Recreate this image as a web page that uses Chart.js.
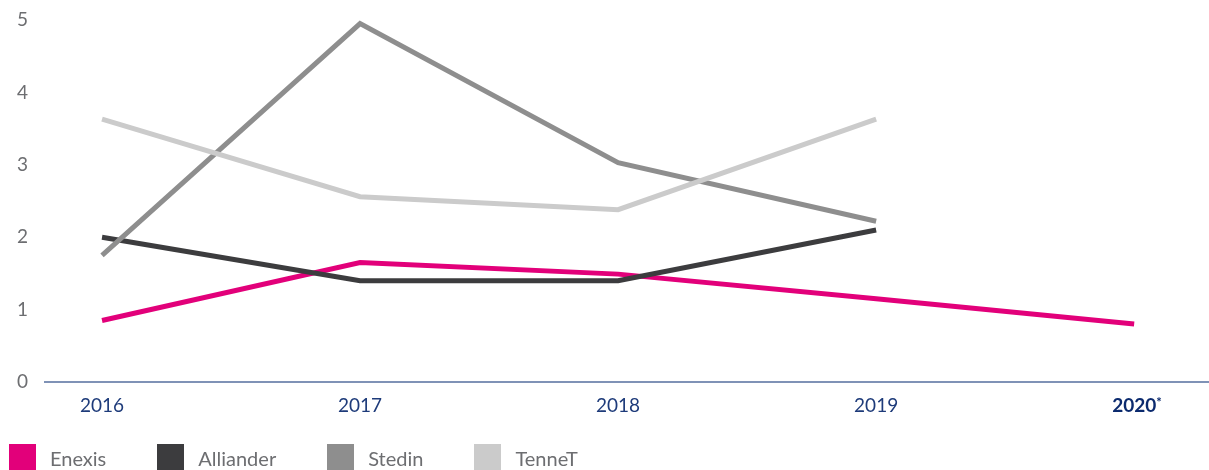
<!DOCTYPE html>
<html>
<head>
<meta charset="utf-8">
<script src="https://cdn.jsdelivr.net/npm/chart.js@4"></script>
<style>
  html, body { margin: 0; padding: 0; background: #fff; }
  #wrap { position: relative; width: 1209px; height: 470px; }
  #legend { position: absolute; left: 9px; top: 444px; display: flex; font-family: Lato, sans-serif; font-size: 20px; color: #6d6e71; }
  #legend .item { display: flex; align-items: center; margin-right: 51px; }
  #legend .box { width: 27px; height: 27px; margin-right: 14px; }
</style>
</head>
<body>
<div id="wrap">
  <canvas id="myChart" width="1209" height="470"></canvas>
  <div id="legend"></div>
</div>
<script>
const years = [2016, 2017, 2018, 2019, 2020];
const enexis = [0.85, 1.65, 1.49, 1.15, 0.8];
const alliander = [2.0, 1.4, 1.4, 2.1, null];
const stedin = [1.75, 4.95, 3.03, 2.22, null];
const tennet = [3.63, 2.56, 2.38, 3.63, null];

const toPoints = vals => years.map((x, i) => ({ x: x, y: vals[i] })).filter(p => p.y !== null);

const series = [
    { label: 'Enexis', values: enexis, color: '#e2007a' },
    { label: 'Alliander', values: alliander, color: '#3c3c3e' },
    { label: 'Stedin', values: stedin, color: '#8e8e8e' },
    { label: 'TenneT', values: tennet, color: '#cbcbcb' }
];

Chart.defaults.font.family = 'Lato, sans-serif';

// small raised asterisk after the bold 2020 label
const starPlugin = {
    id: 'star',
    afterDraw(chart) {
        const x = chart.scales.x;
        const c = chart.ctx;
        const px = x.getPixelForValue(2020);
        c.save();
        c.font = 'bold 13px Lato, sans-serif';
        c.fillStyle = '#0b2a6e';
        c.textBaseline = 'top';
        c.fillText('*', px + 22, x.top + 14);
        c.restore();
    }
};

const ctx = document.getElementById('myChart');
const myChart = new Chart(ctx, {
    type: 'line',
    data: {
        // drawn back to front: TenneT under the rest
        datasets: series.slice().reverse().map(s => ({
            label: s.label,
            data: toPoints(s.values),
            borderColor: s.color,
            backgroundColor: s.color,
            borderWidth: 5,
            borderJoinStyle: 'miter',
            pointRadius: 0,
            tension: 0
        }))
    },
    options: {
        responsive: false,
        animation: false,
        layout: { padding: { top: 20, right: 0, bottom: 0, left: 0 } },
        plugins: {
            legend: { display: false },
            tooltip: { enabled: false }
        },
        scales: {
            x: {
                type: 'linear',
                min: 2015.779,
                max: 2020.29,
                grid: { display: false, drawTicks: false },
                border: { display: true, color: '#7f92b6', width: 2 },
                afterFit: scale => { scale.height = 88; },
                ticks: {
                    stepSize: 1,
                    includeBounds: false,
                    padding: 12,
                    color: ctx => ctx.tick && ctx.tick.value === 2020 ? '#0b2a6e' : '#1e3b7a',
                    font: ctx => ({ size: 19, weight: ctx.tick && ctx.tick.value === 2020 ? 'bold' : 'normal' }),
                    callback: v => String(v)
                }
            },
            y: {
                min: 0,
                max: 5,
                grid: { display: false, drawTicks: false },
                border: { display: false },
                afterFit: scale => { scale.width = 45; scale.paddingTop = 0; scale.paddingBottom = 0; },
                ticks: {
                    stepSize: 1,
                    padding: 17,
                    color: '#6d6e71',
                    font: { size: 19 }
                }
            }
        }
    },
    plugins: [starPlugin]
});

const legendEl = document.getElementById('legend');
series.forEach(s => {
    const item = document.createElement('div');
    item.className = 'item';
    const box = document.createElement('span');
    box.className = 'box';
    box.style.background = s.color;
    const text = document.createElement('span');
    text.textContent = s.label;
    item.appendChild(box);
    item.appendChild(text);
    legendEl.appendChild(item);
});
</script>
</body>
</html>
